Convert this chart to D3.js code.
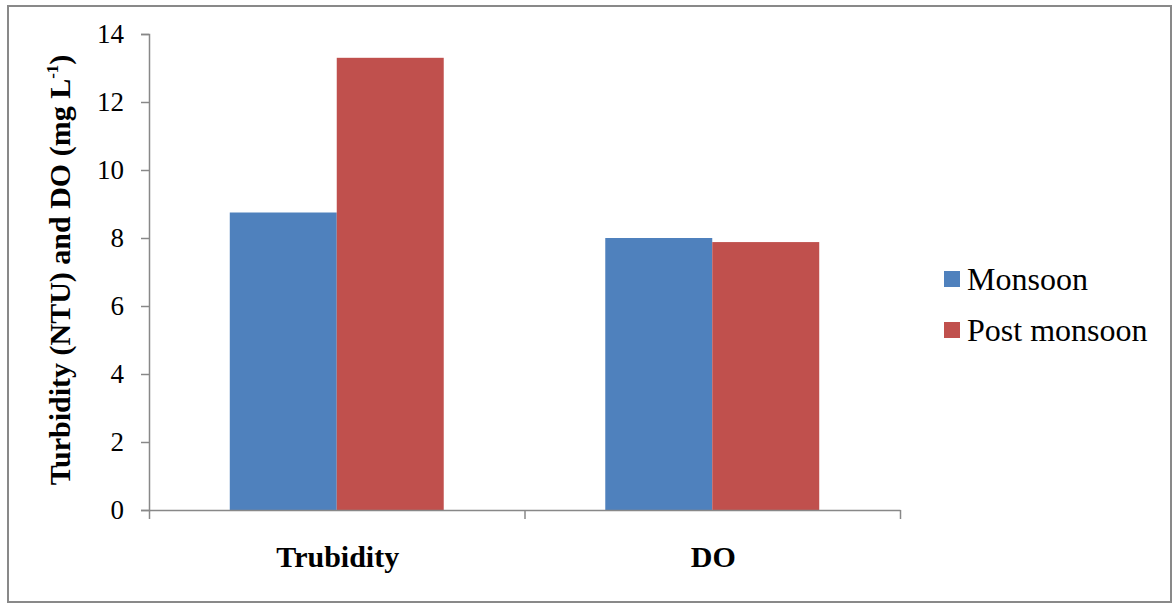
<!DOCTYPE html>
<html>
<head>
<meta charset="utf-8">
<script src="https://cdn.jsdelivr.net/npm/d3@7"></script>
<style>
  html, body { margin: 0; padding: 0; background: #fff; }
  svg { display: block; }
</style>
</head>
<body>
<svg id="chart" width="1173" height="605"></svg>
<script>
const categories = ["Trubidity", "DO"];
const seriesNames = ["Monsoon", "Post monsoon"];
const monsoon = [8.75, 8.0];
const postMonsoon = [13.3, 7.88];
const yTicks = [0, 2, 4, 6, 8, 10, 12, 14];
const colors = ["#4F81BD", "#C0504D"];

(function () {
const FONT = "'Liberation Serif', 'Times New Roman', serif";
const svg = d3.select("#chart");
const plotLeft = 149, plotRight = 900, plotTop = 34, plotBottom = 510;

// outer frame
svg.append("rect")
  .attr("x", 8).attr("y", 6).attr("width", 1163).attr("height", 596)
  .attr("fill", "#fff").attr("stroke", "#898989").attr("stroke-width", 2);

const y = d3.scaleLinear().domain([0, 14]).range([plotBottom, plotTop]);
const x0 = d3.scaleBand().domain(categories).range([plotLeft, plotRight]).padding(0);
const x1 = d3.scaleBand().domain(seriesNames).range([0, x0.bandwidth()])
  .paddingInner(0).paddingOuter(0.755);

const values = [monsoon, postMonsoon];

// bars
categories.forEach((c, ci) => {
  seriesNames.forEach((s, si) => {
    const v = values[si][ci];
    svg.append("rect")
      .attr("x", x0(c) + x1(s))
      .attr("y", y(v))
      .attr("width", x1.bandwidth())
      .attr("height", y(0) - y(v))
      .attr("fill", colors[si]);
  });
});

// y axis
const yAxis = svg.append("g")
  .attr("transform", `translate(${plotLeft},0)`)
  .call(d3.axisLeft(y).tickValues(yTicks).tickSize(8).tickPadding(17).tickSizeOuter(8));
yAxis.attr("font-family", null).attr("font-size", null);
yAxis.selectAll("path, line").attr("stroke", "#888").attr("stroke-width", 1.5);
yAxis.selectAll("text")
  .style("font-family", FONT)
  .style("font-size", "27px").attr("fill", "#000");

// x axis (tick marks at category boundaries)
const xb = d3.scaleLinear().domain([0, categories.length]).range([plotLeft, plotRight]);
const xAxis = svg.append("g")
  .attr("transform", `translate(0,${plotBottom})`)
  .call(d3.axisBottom(xb).tickValues(d3.range(categories.length + 1)).tickFormat("").tickSize(9).tickSizeOuter(0));
xAxis.selectAll("path, line").attr("stroke", "#888").attr("stroke-width", 1.5);

// category labels
svg.selectAll(".cat").data(categories).enter().append("text")
  .attr("class", "cat")
  .attr("x", d => x0(d) + x0.bandwidth() / 2 + 1)
  .attr("y", 567)
  .attr("text-anchor", "middle")
  .style("font-family", FONT)
  .style("font-weight", "bold")
  .style("font-size", "30px")
  .attr("fill", "#000")
  .text(d => d);

// y title
const yt = svg.append("text")
  .attr("transform", "translate(70,270) rotate(-90)")
  .attr("text-anchor", "middle")
  .style("font-family", FONT)
  .style("font-weight", "bold")
  .style("font-size", "30px")
  .attr("fill", "#000");
yt.append("tspan").text("Turbidity (NTU) and DO (mg L");
yt.append("tspan").style("font-size", "17px").attr("dy", -12).text("-1");
yt.append("tspan").attr("dy", 12).text(")");

// legend
const lg = svg.append("g");
seriesNames.forEach((s, i) => {
  const yy = 290 + i * 51;
  lg.append("rect").attr("x", 944).attr("y", yy - 19).attr("width", 16).attr("height", 16).attr("fill", colors[i]);
  lg.append("text").attr("x", 967).attr("y", yy)
    .style("font-family", FONT).style("font-size", "32px").attr("fill", "#000").text(s);
});
})();
</script>
</body>
</html>
